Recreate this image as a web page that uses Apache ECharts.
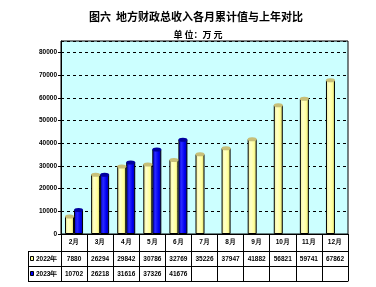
<!DOCTYPE html>
<html>
<head>
<meta charset="utf-8">
<script src="https://cdn.jsdelivr.net/npm/echarts@6/dist/echarts.min.js"></script>
<style>html,body{margin:0;padding:0;background:#fff;}#c{width:376px;height:287px;}</style>
</head>
<body>
<div id="c"></div>
<script>
const months = ['2月','3月','4月','5月','6月','7月','8月','9月','10月','11月','12月'];
const values2022 = [7880, 26294, 29842, 30786, 32769, 35226, 37947, 41882, 56821, 59741, 67862];
const values2023 = [10702, 26218, 31616, 37326, 41676, null, null, null, null, null, null];
const yTicks = [0, 10000, 20000, 30000, 40000, 50000, 60000, 70000, 80000];
const seriesNames = ['2022年', '2023年'];

const chart = echarts.init(document.getElementById('c'), null, {renderer: 'canvas'});
const F = 'Liberation Sans, Arial, sans-serif';
const CJK = '"Noto Sans CJK SC", sans-serif';
const yellowGrad = new echarts.graphic.LinearGradient(0,0,1,0,[
  {offset:0,color:'#ECEC90'},{offset:0.35,color:'#FFFFC8'},{offset:0.7,color:'#FFFF99'},{offset:1,color:'#CCCC66'}]);
const blueGrad = new echarts.graphic.LinearGradient(0,0,1,0,[
  {offset:0,color:'#0000C8'},{offset:0.35,color:'#2828FF'},{offset:0.7,color:'#0000F0'},{offset:1,color:'#0000A8'}]);

function tableAxis(offset, fmt, tickLen, showLine) {
  return {
    type:'category', data: months, position:'bottom', offset: offset,
    axisLine:{show: showLine, lineStyle:{color:'#000', width:1}},
    axisTick:{show: tickLen>0, length: tickLen, interval:0, lineStyle:{color:'#000'}},
    axisLabel:{show: !!fmt, interval:0, margin:5, fontSize:6.5, fontWeight:'bold', color:'#000', fontFamily: F,
      formatter: fmt || undefined},
    splitLine:{show:false}
  };
}

const option = {
  backgroundColor:'#fff',
  animation:false,
  title:[
    {text:'图六  地方财政总收入各月累计值与上年对比', left:191, top:6, textAlign:'center',
     textStyle:{fontFamily:CJK, fontSize:11, fontWeight:'bold', color:'#000'}},
    {text:'单 位：万 元', left:193, top:25, textAlign:'center',
     textStyle:{fontFamily:CJK, fontSize:9, fontWeight:'bold', color:'#000'}}
  ],
  grid:{left:61, right:28, top:41, bottom:53, show:true, backgroundColor:'#CCFFFF', borderColor:'#000', borderWidth:1, containLabel:false, outerBoundsMode:'none'},
  xAxis:[
    tableAxis(0, (v)=>v, 17, true),
    tableAxis(17, (v,i)=> values2022[i]==null ? '' : String(values2022[i]), 15, true),
    tableAxis(32, (v,i)=> values2023[i]==null ? '' : String(values2023[i]), 15, true),
    tableAxis(47, null, 0, true)
  ],
  yAxis:{type:'value', min:0, max:85000, interval:10000,
    axisLine:{show:true, lineStyle:{color:'#000'}},
    axisTick:{show:true, length:3, lineStyle:{color:'#000'}},
    axisLabel:{margin:4, fontSize:6.5, fontWeight:'bold', color:'#000', fontFamily:F, showMaxLabel:false,
      formatter:(v)=> yTicks.indexOf(v)>=0 ? String(v) : ''},
    splitLine:{show:true, lineStyle:{color:'#000', type:[3,3], width:1}}
  },
  series:[
    {name:seriesNames[0], type:'bar', data:values2022, barWidth:9, barGap:'0%', xAxisIndex:0,
     itemStyle:{color:yellowGrad, borderColor:'#000', borderWidth:1}, z:2},
    {name:seriesNames[1], type:'bar', data:values2023, barWidth:9, barGap:'0%', xAxisIndex:0,
     itemStyle:{color:blueGrad, borderColor:'#000', borderWidth:1}, z:2},
    {name:seriesNames[0]+'cap', type:'pictorialBar', data:values2022, barWidth:9, barGap:'0%', xAxisIndex:0,
     symbol:'circle', symbolSize:[9,4], symbolPosition:'end', symbolOffset:[0,'-50%'],
     itemStyle:{color:'#C8C078', borderColor:'#000', borderWidth:1}, z:5},
    {name:seriesNames[1]+'cap', type:'pictorialBar', data:values2023, barWidth:9, barGap:'0%', xAxisIndex:0,
     symbol:'circle', symbolSize:[9,4], symbolPosition:'end', symbolOffset:[0,'-50%'],
     itemStyle:{color:'#0000A0', borderColor:'#000', borderWidth:1}, z:5}
  ],
  graphic:[
    {type:'line', shape:{x1:28, y1:251.5, x2:61, y2:251.5}, style:{stroke:'#000', lineWidth:1}},
    {type:'line', shape:{x1:28, y1:266.5, x2:61, y2:266.5}, style:{stroke:'#000', lineWidth:1}},
    {type:'line', shape:{x1:28, y1:281.5, x2:61, y2:281.5}, style:{stroke:'#000', lineWidth:1}},
    {type:'line', shape:{x1:28.5, y1:251, x2:28.5, y2:282}, style:{stroke:'#000', lineWidth:1}},
    {type:'rect', shape:{x:30.5, y:256.5, width:3, height:4}, style:{fill:'#FFFF99', stroke:'#000', lineWidth:1}},
    {type:'rect', shape:{x:30.5, y:271.5, width:3, height:4}, style:{fill:'#0000FF', stroke:'#000', lineWidth:1}},
    {type:'text', x:36, y:259, style:{text:seriesNames[0], fontSize:6.5, fontWeight:'bold', fill:'#000', fontFamily:F, verticalAlign:'middle'}},
    {type:'text', x:36, y:274, style:{text:seriesNames[1], fontSize:6.5, fontWeight:'bold', fill:'#000', fontFamily:F, verticalAlign:'middle'}}
  ]
};
chart.setOption(option);
</script>
</body>
</html>
